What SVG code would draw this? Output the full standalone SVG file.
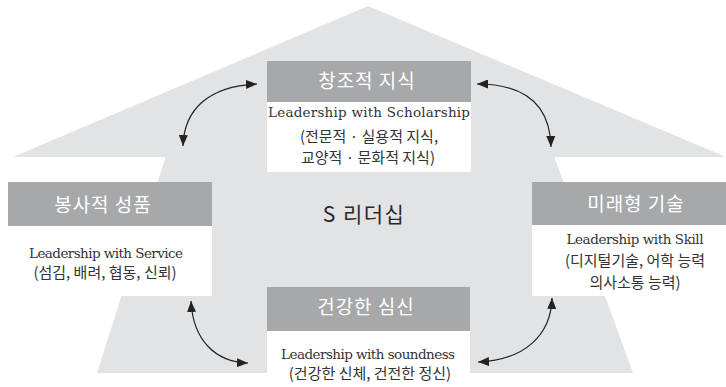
<svg xmlns="http://www.w3.org/2000/svg" width="726" height="387" viewBox="0 0 726 387">
  <defs>
    <style>
      .bg { fill: #e2e3e5; }
      .hdr { fill: #a7a8aa; }
      .body { fill: #ffffff; }
      .title { font-family: "Noto Sans CJK KR", "Noto Sans", sans-serif; font-size: 19px; font-weight: 400; letter-spacing: 1px; fill: #ffffff; text-anchor: middle; }
      .en { font-family: "DejaVu Serif", "Liberation Serif", serif; font-size: 13.5px; fill: #333333; text-anchor: middle; }
      .ko { font-family: "Noto Sans CJK KR", "Noto Sans", sans-serif; font-size: 15px; fill: #333333; text-anchor: middle; }
      .center { font-family: "Noto Sans CJK KR", "Noto Sans", sans-serif; font-size: 21px; letter-spacing: 1.5px; fill: #2a2a2a; text-anchor: middle; }
      .conn { fill: none; stroke: #222222; stroke-width: 1.2; marker-start: url(#ah); marker-end: url(#ah); }
    </style>
    <marker id="ah" markerUnits="userSpaceOnUse" markerWidth="11" markerHeight="9" refX="11" refY="4.5" orient="auto-start-reverse">
      <path d="M0,0 L11,4.5 L0,9 Z" fill="#222222"/>
    </marker>
  </defs>

  <g id="background">
    <polygon class="bg" points="13,157 368,6 726,157"/>
    <polygon class="bg" points="166,156 554,156 633,373 97,373"/>
  </g>

  <text class="center" x="364" y="222">S 리더십</text>

  <g id="node-top">
    <rect class="hdr" x="267" y="61" width="204" height="41"/>
    <rect class="body" x="267" y="102" width="204" height="70"/>
    <text class="title" x="367" y="88">창조적 지식</text>
    <text class="en" x="369" y="117" textLength="202">Leadership with Scholarship</text>
    <text class="ko" x="369" y="142">(전문적 · 실용적 지식,</text>
    <text class="ko" x="368" y="163">교양적 · 문화적 지식)</text>
  </g>

  <g id="node-left">
    <rect class="hdr" x="8" y="182" width="204" height="44"/>
    <rect class="body" x="8" y="226" width="204" height="70"/>
    <text class="title" x="103" y="212">봉사적 성품</text>
    <text class="en" x="106" y="258" textLength="154">Leadership with Service</text>
    <text class="ko" x="105" y="278">(섬김, 배려, 협동, 신뢰)</text>
  </g>

  <g id="node-right">
    <rect class="hdr" x="532" y="182" width="194" height="43"/>
    <rect class="body" x="532" y="225" width="194" height="71"/>
    <text class="title" x="636" y="211">미래형 기술</text>
    <text class="en" x="635" y="244" textLength="137">Leadership with Skill</text>
    <text class="ko" x="635" y="266">(디지털기술, 어학 능력</text>
    <text class="ko" x="635" y="288">의사소통 능력)</text>
  </g>

  <g id="node-bottom">
    <rect class="hdr" x="267" y="287" width="203" height="44"/>
    <rect class="body" x="267" y="331" width="203" height="56"/>
    <text class="title" x="366" y="314">건강한 심신</text>
    <text class="en" x="368" y="359" textLength="174">Leadership with soundness</text>
    <text class="ko" x="370" y="379">(건강한 신체, 건전한 정신)</text>
  </g>

  <g id="connectors">
    <path class="conn" d="M183,146 C184,110 208,86 257,84"/>
    <path class="conn" d="M551,147 C550,105 525,84 477,84"/>
    <path class="conn" d="M191,301 C193,340 215,362 248,363"/>
    <path class="conn" d="M552,298 C551,335 525,360 478,362"/>
  </g>
</svg>
